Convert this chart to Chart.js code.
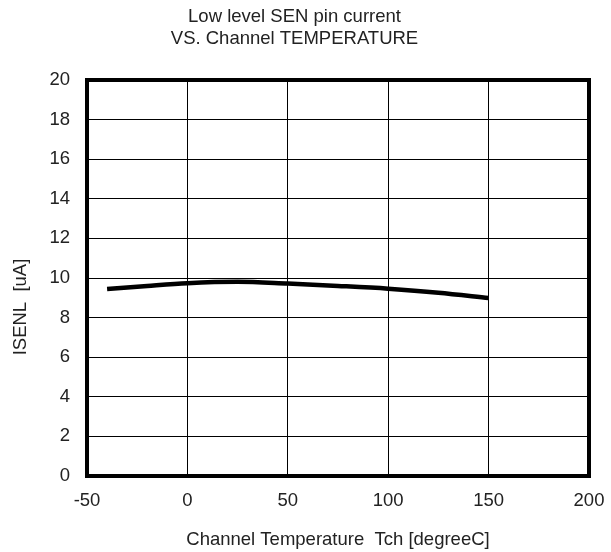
<!DOCTYPE html>
<html>
<head>
<meta charset="utf-8">
<script src="https://cdn.jsdelivr.net/npm/chart.js@4/dist/chart.umd.min.js"></script>
<style>
  html, body { margin: 0; padding: 0; background: #fff; }
  #wrap { width: 611px; height: 552px; }
</style>
</head>
<body>
<div id="wrap"><canvas id="chart" width="611" height="552"></canvas></div>
<script>
// Low level SEN pin current vs channel temperature
const tempC = [-40, -20, 0, 25, 50, 75, 100, 125, 150];
const isenl = [9.44, 9.6, 9.74, 9.81, 9.72, 9.6, 9.46, 9.26, 8.99];

const xTicks = [-50, 0, 50, 100, 150, 200];
const yTicks = [0, 2, 4, 6, 8, 10, 12, 14, 16, 18, 20];

const yTitle = "ISENL  [uA]";

const FONT = "'Liberation Sans', Arial, sans-serif";
const FS = 18.5;

// thick frame round the plot area, plus the y title (sits a bit below centre in the original)
const frame = {
  id: "frame",
  afterDraw(chart) {
    const a = chart.chartArea;
    const ctx = chart.ctx;
    ctx.save();
    ctx.strokeStyle = "#000";
    ctx.lineWidth = 4;
    ctx.strokeRect(a.left, a.top, a.right - a.left, a.bottom - a.top);

    ctx.fillStyle = "#222";
    ctx.font = `${FS}px ${FONT}`;
    ctx.textAlign = "center";
    ctx.textBaseline = "middle";
    ctx.translate(21, (a.top + a.bottom) / 2 + 29);
    ctx.rotate(-Math.PI / 2);
    ctx.fillText(yTitle, 0, 0);
    ctx.restore();
  }
};

new Chart(document.getElementById("chart"), {
  type: "scatter",
  data: {
    datasets: [{
      data: tempC.map((t, i) => ({ x: t, y: isenl[i] })),
      showLine: true,
      borderColor: "#000",
      borderWidth: 4.5,
      pointRadius: 0,
      tension: 0.4,
      cubicInterpolationMode: "monotone"
    }]
  },
  options: {
    responsive: false,
    animation: false,
    layout: { padding: { left: 0, right: 22, top: 0, bottom: 0 } },
    plugins: {
      legend: { display: false },
      tooltip: { enabled: false },
      title: {
        display: true,
        text: ["Low level SEN pin current", "VS. Channel TEMPERATURE"],
        color: "#222",
        font: { family: FONT, size: FS, weight: "normal", lineHeight: 1.2 },
        padding: { top: 6, bottom: 29.6 }
      }
    },
    scales: {
      x: {
        type: "linear",
        min: -50,
        max: 200,
        afterBuildTicks: s => { s.ticks = xTicks.map(v => ({ value: v })); },
        afterFit: s => { s.height = 76; s.paddingLeft = 0; s.paddingRight = 0; },
        grid: { color: "#000", lineWidth: 1, drawTicks: false },
        border: { display: false },
        ticks: { color: "#222", padding: 14, font: { family: FONT, size: FS } },
        title: {
          display: true,
          text: "Channel Temperature  Tch [degreeC]",
          color: "#222",
          font: { family: FONT, size: FS },
          padding: 1
        }
      },
      y: {
        min: 0,
        max: 20,
        afterBuildTicks: s => { s.ticks = yTicks.map(v => ({ value: v })); },
        afterFit: s => { s.width = 87; },
        grid: { color: "#000", lineWidth: 1, drawTicks: false },
        border: { display: false },
        ticks: { color: "#222", padding: 17, font: { family: FONT, size: FS } }
      }
    }
  },
  plugins: [frame]
});
</script>
</body>
</html>
